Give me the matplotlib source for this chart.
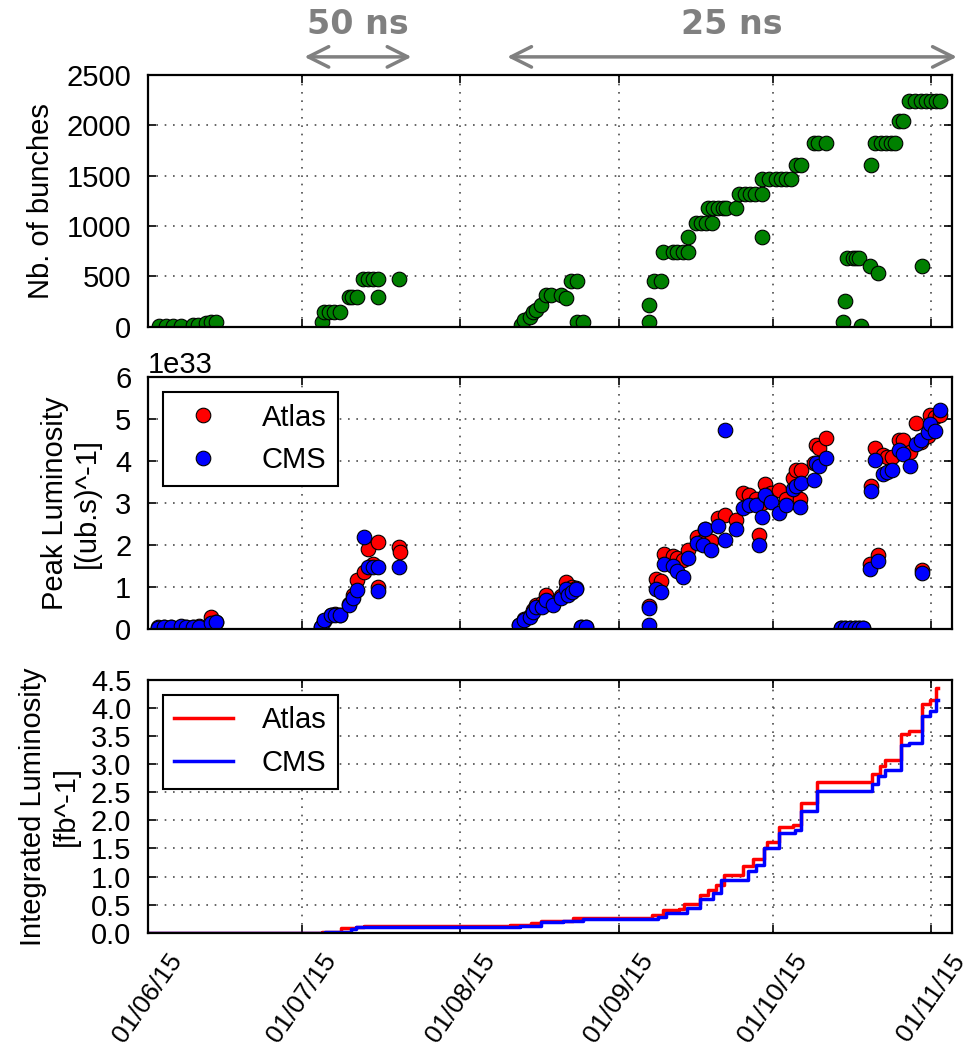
import numpy as np
import matplotlib
matplotlib.use('Agg')
import matplotlib.pyplot as plt
import matplotlib.dates as mdates
from datetime import datetime

plt.rcParams['font.family'] = ['Liberation Sans', 'DejaVu Sans']
plt.rcParams['font.size'] = 21

nan = np.nan
start = mdates.date2num(datetime(2015, 6, 1))

# number of colliding bunches per fill (days since 01/06/15)
bunch_day = [2.2, 3.5, 4.8, 6.4, 8.7, 9.7, 11.3, 12.3, 13.3,
             33.9, 34.4, 35.4, 36.4, 37.4, 39.3, 39.9, 40.9, 41.9, 42.9, 43.9, 44.9, 44.9, 49.1,
             72.8, 73.5, 74.5, 75.1, 75.8, 76.8, 77.7, 78.7, 80.7, 81.6, 82.6, 83.7, 83.8, 85.0,
             97.8, 97.8, 98.9, 100.2, 100.5, 102.5, 103.4, 104.4, 105.4, 105.4,
             107.0, 108.0, 109.0, 110.2, 109.3, 110.3, 111.3, 112.2, 112.9, 114.8,
             115.5, 116.5, 117.5, 118.5, 120.0, 119.9,
             120.0, 121.3, 122.7, 123.6, 124.6, 125.6, 126.6, 127.5, 130.1, 130.8, 132.4,
             135.8, 136.2, 136.6, 137.6, 138.3, 138.9, 139.3, 140.9, 142.6, 141.1,
             141.9, 143.2, 144.1, 145.1, 145.8, 146.7, 147.4,
             148.7, 149.7, 151.0, 152.0, 152.9, 153.9, 154.6, 151.1]
bunch_n = [3, 3, 6, 6, 13, 13, 40, 50, 50,
           50, 144, 144, 144, 144, 292, 292, 292, 476, 476, 476, 476, 292, 476,
           17, 67, 93, 149, 166, 215, 315, 315, 315, 290, 454, 454, 50, 50,
           50, 215, 457, 457, 745, 745, 745, 745, 745, 888,
           1033, 1033, 1033, 1033, 1176, 1176, 1176, 1176, 1176, 1176,
           1318, 1318, 1318, 1318, 1318, 894,
           1464, 1464, 1464, 1464, 1464, 1464, 1603, 1603, 1827, 1827, 1827,
           50, 255, 679, 679, 679, 679, 10, 606, 530, 1606,
           1827, 1827, 1827, 1827, 1827, 2043, 2043,
           2241, 2241, 2241, 2241, 2241, 2241, 2241, 603]

# peak luminosity, units of 1e33
lumi_day = [1.9, 3.2, 4.5, 6.4, 7.4, 8.7, 10.0, 12.3, 13.3,
            33.8, 34.4, 35.7, 36.6, 37.4, 39.3, 40.0, 40.9, 42.2, 42.9, 43.9, 44.9, 44.9, 49.1, 49.2,
            72.5, 73.5, 74.5, 75.1, 75.8, 77.0, 77.7, 79.0, 80.7, 81.6, 82.0, 82.8, 83.6, 84.6, 85.5,
            97.8, 97.9, 99.2, 100.2, 100.8, 102.5, 103.4, 104.4, 105.4, 107.3, 108.3, 108.7, 110.0,
            111.3, 112.6, 112.7, 114.8,
            116.1, 117.4, 118.8, 119.4, 119.9, 120.4, 121.7, 123.3, 124.6, 125.9, 126.6, 127.4, 127.5,
            130.1, 130.5, 131.0, 132.4,
            135.4, 136.2, 137.0, 138.0, 138.9, 139.6,
            140.9, 141.1, 142.0, 142.6, 143.6, 144.3, 145.2, 146.7, 147.5, 148.9, 150.0, 151.0,
            151.2, 152.3, 152.8, 153.6, 154.6]
atlas_peak = [0.05, 0.05, 0.06, 0.06, 0.05, 0.05, 0.07, 0.30, 0.17,
              0.05, 0.20, 0.35, 0.36, 0.34, 0.60, 0.82, 1.17, 1.37, 1.91, 1.55, 2.09, 1.01, 1.97, 1.85,
              0.10, 0.24, 0.32, 0.45, 0.58, 0.62, 0.82, 0.62, 0.80, 1.13, 0.90, 1.00, 0.98, 0.05, 0.05,
              nan, 0.55, 1.20, 1.15, 1.80, 1.75, 1.70, 1.65, 1.90, 2.20, 2.10, 2.40, 2.10,
              2.65, 2.72, nan, 2.60,
              3.24, 3.20, 3.10, 2.25, 3.00, 3.47, 3.24, 3.32, 3.10, 3.60, 3.79, 3.10, 3.79,
              3.95, 4.39, 4.31, 4.56,
              0.03, 0.03, 0.03, 0.03, 0.03, 0.03,
              1.55, 3.41, 4.31, 1.77, 4.15, 4.10, 4.10, 4.50, 4.52, 4.23, 4.92, 4.45,
              1.41, 4.60, 5.10, 5.05, 5.10]
cms_peak = [0.04, 0.05, 0.06, 0.07, 0.05, 0.05, 0.06, 0.15, 0.18,
            0.06, 0.22, 0.33, 0.35, 0.35, 0.58, 0.75, 0.94, 2.19, 1.49, 1.48, 1.49, 0.92, 1.49, nan,
            0.10, 0.22, 0.30, 0.42, 0.54, 0.52, 0.70, 0.58, 0.74, 0.95, 0.82, 0.90, 0.95, 0.06, 0.06,
            0.10, 0.50, 0.95, 0.90, 1.55, 1.50, 1.40, 1.25, 1.70, 2.06, 2.00, 2.40, 1.90,
            2.47, 2.13, 4.74, 2.40,
            2.88, 2.95, 2.95, 2.00, 2.68, 3.20, 3.04, 2.76, 2.95, 3.35, 3.42, 2.91, 3.48,
            3.55, 3.96, 3.90, 4.07,
            0.04, 0.04, 0.04, 0.04, 0.04, 0.04,
            1.43, 3.30, 4.02, 1.63, 3.71, 3.75, 3.80, 4.27, 4.17, 3.89, 4.41, 4.50,
            1.35, 4.70, 4.90, 4.73, 5.22]

# integrated luminosity (fb^-1), step curves
atlas_int_day = [0, 34.0, 37.6, 40.7, 42.2, 70.6, 74.8, 76.8, 83.0, 98.5, 100.6, 103.7, 104.7,
                 107.8, 109.4, 110.9, 112.5, 116.1, 118.2, 120.2, 120.8, 123.3, 125.9, 127.5,
                 130.6, 141.4, 143.0, 144.0, 147.1, 148.7, 151.2, 152.8, 153.8, 154.3]
atlas_int = [0.0, 0.02, 0.077, 0.10, 0.125, 0.13, 0.167, 0.21, 0.256, 0.315, 0.405, 0.417, 0.506,
             0.673, 0.762, 0.851, 1.03, 1.18, 1.31, 1.50, 1.61, 1.89, 1.92, 2.31,
             2.68, 2.82, 2.96, 3.08, 3.53, 3.59, 4.07, 4.14, 4.35, 4.35]
cms_int_day = [0, 34.5, 39.6, 40.7, 42.6, 72.7, 76.8, 81.0, 85.0, 99.5, 101.1, 105.3, 107.8,
               110.4, 111.9, 117.2, 118.7, 120.2, 123.3, 126.4, 127.5, 130.6, 141.4, 142.5,
               144.0, 147.1, 148.7, 151.2, 152.8, 153.8, 154.3]
cms_int = [0.0, 0.01, 0.06, 0.107, 0.11, 0.12, 0.185, 0.21, 0.238, 0.286, 0.345, 0.435, 0.595,
           0.70, 0.94, 1.09, 1.21, 1.50, 1.77, 1.83, 2.16, 2.52, 2.64, 2.79,
           2.90, 3.35, 3.38, 3.86, 3.95, 4.15, 4.15]

# bunch spacing periods (days since 01/06/15)
periods = [('50 ns', 30.0, 52.0), ('25 ns', 69.6, 158.5)]

fig = plt.figure(figsize=(9.7, 10.52), dpi=100)
ax1 = fig.add_axes([0.1526, 0.6894, 0.8288, 0.2393])
ax2 = fig.add_axes([0.1526, 0.4018, 0.8288, 0.2395], sharex=ax1)
ax3 = fig.add_axes([0.1526, 0.1134, 0.8288, 0.2402], sharex=ax1)

mk = dict(linestyle='none', marker='o', markersize=10.5, markeredgecolor='black', markeredgewidth=0.8)

ax1.plot(start + np.array(bunch_day), bunch_n, color='green', **mk)
ax1.set_ylim(0, 2500)
ax1.set_yticks(np.arange(0, 2501, 500))
ax1.set_ylabel('Nb. of bunches', labelpad=8)

ax2.plot(start + np.array(lumi_day), np.array(atlas_peak) * 1e33, color='red', label='Atlas', **mk)
ax2.plot(start + np.array(lumi_day), np.array(cms_peak) * 1e33, color='blue', label='CMS', **mk)
ax2.set_ylim(0, 6e33)
ax2.set_yticks(np.arange(0, 7) * 1e33)
ax2.set_ylabel('Peak Luminosity\n[(ub.s)^-1]', labelpad=10)
leg = ax2.legend(loc='upper left', numpoints=1, handletextpad=1.0, fancybox=False, framealpha=1)
leg.get_frame().set_edgecolor('black')
leg.get_frame().set_linewidth(1.5)

ax3.plot(start + np.array(atlas_int_day), atlas_int, color='red', lw=2.5, drawstyle='steps-post', label='Atlas')
ax3.plot(start + np.array(cms_int_day), cms_int, color='blue', lw=2.5, drawstyle='steps-post', label='CMS')
ax3.set_ylim(0, 4.5)
ax3.set_yticks(np.arange(0, 4.51, 0.5))
ax3.yaxis.set_major_formatter(plt.FormatStrFormatter('%.1f'))
ax3.set_ylabel('Integrated Luminosity\n[fb^-1]', labelpad=8)
leg = ax3.legend(loc='upper left', handletextpad=1.0, fancybox=False, framealpha=1)
leg.get_frame().set_edgecolor('black')
leg.get_frame().set_linewidth(1.5)

ax1.set_xlim(start, mdates.date2num(datetime(2015, 11, 5)))
ax3.xaxis.set_major_locator(mdates.MonthLocator())
ax3.xaxis.set_major_formatter(mdates.DateFormatter('%d/%m/%y'))

for ax in (ax1, ax2, ax3):
    ax.grid(True, linestyle=(0, (1, 4)), color='0.3', linewidth=1.2)
    ax.tick_params(direction='in', top=True, right=True, length=6, width=1.2, pad=12, labelsize=21)
    ax.tick_params(axis='x', labelsize=19)
    for sp in ax.spines.values():
        sp.set_linewidth(1.6)
    ax.yaxis.get_offset_text().set_fontsize(21)
for ax in (ax1, ax2):
    ax.tick_params(labelbottom=False)
plt.setp(ax3.get_xticklabels(), rotation=55, ha='center')

for name, d0, d1 in periods:
    ax1.annotate('', xy=(start + d0, 1.072), xytext=(start + d1, 1.072),
                 xycoords=('data', 'axes fraction'), textcoords=('data', 'axes fraction'),
                 arrowprops=dict(arrowstyle='<->,head_length=0.7,head_width=0.35', lw=2.5, color='#808080'),
                 annotation_clip=False)
    ax1.text(start + (d0 + d1) / 2, 1.20, name, transform=ax1.get_xaxis_transform(),
             ha='center', va='center', fontsize=24, fontweight='bold', color='#808080',
             family=['DejaVu Sans'], clip_on=False)

fig.savefig('out.png', dpi=100)
